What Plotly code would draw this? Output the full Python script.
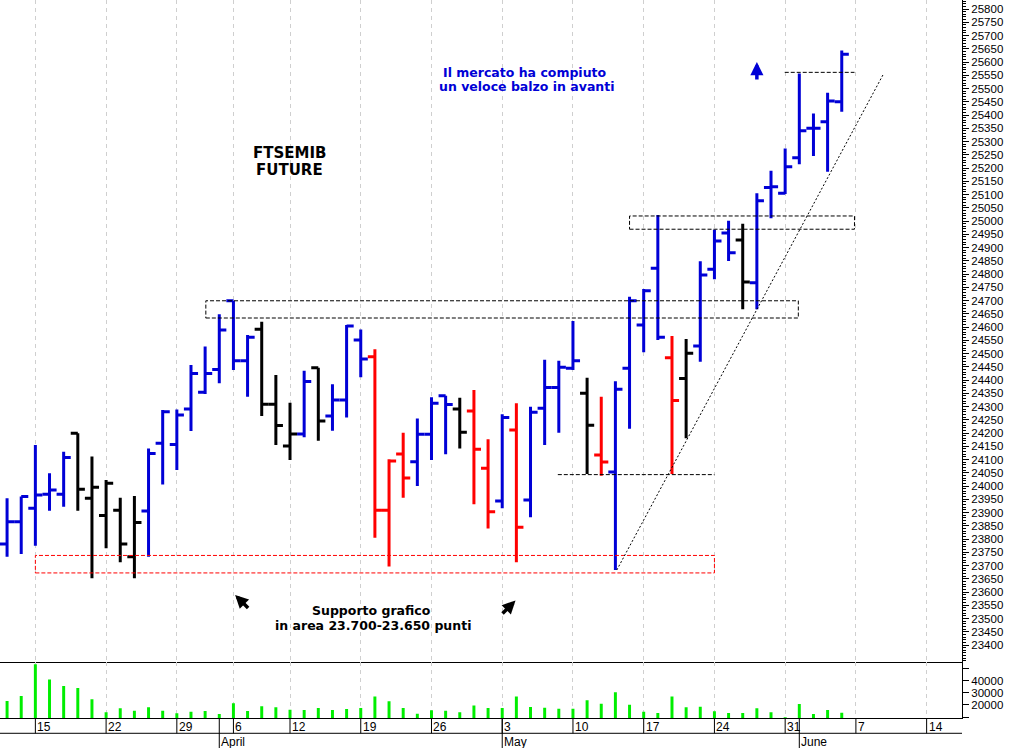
import plotly.graph_objects as go

# ---------------- data ----------------
dates = ["2010-03-11", "2010-03-12", "2010-03-15", "2010-03-16", "2010-03-17", "2010-03-18", "2010-03-19",
         "2010-03-22", "2010-03-23", "2010-03-24", "2010-03-25", "2010-03-26", "2010-03-29", "2010-03-30",
         "2010-03-31", "2010-04-01", "2010-04-06", "2010-04-07", "2010-04-08", "2010-04-09", "2010-04-12",
         "2010-04-13", "2010-04-14", "2010-04-15", "2010-04-16", "2010-04-19", "2010-04-20", "2010-04-21",
         "2010-04-22", "2010-04-23", "2010-04-26", "2010-04-27", "2010-04-28", "2010-04-29", "2010-04-30",
         "2010-05-03", "2010-05-04", "2010-05-05", "2010-05-06", "2010-05-07", "2010-05-10", "2010-05-11",
         "2010-05-12", "2010-05-13", "2010-05-14", "2010-05-17", "2010-05-18", "2010-05-19", "2010-05-20",
         "2010-05-21", "2010-05-24", "2010-05-25", "2010-05-26", "2010-05-27", "2010-05-28", "2010-05-31",
         "2010-06-01", "2010-06-02", "2010-06-03", "2010-06-04"]

opens = [23781, 23865, 23916, 23969, 23969, 24199, 23954, 23889, 23909, 23733,
         23906, 24161, 24157, 24291, 24354, 24440, 24699, 24473, 24592, 24309,
         24151, 24196, 24446, 24264, 24325, 24551, 24488, 23909, 24121, 24092,
         24195, 24341, 24291, 24283, 24067, 23943, 24211, 23947, 24293, 24372,
         24444, 24350, 24117, 24053, 24444, 24608, 24822, 24484, 24406, 24528,
         24818, 24955, 24928, 24767, 25126, 25105, 25239, 25350, 25375, 25450]
highs = [23954, 23960, 24155, 24048, 24129, 24199, 24111, 24023, 23956, 23962,
         24142, 24287, 24289, 24457, 24526, 24648, 24699, 24570, 24620, 24419,
         24314, 24435, 24446, 24384, 24608, 24591, 24516, 24101, 24201, 24255,
         24335, 24341, 24333, 24362, 24176, 24271, 24312, 24299, 24476, 24473,
         24623, 24409, 24337, 24395, 24714, 24743, 25023, 24566, 24555, 24848,
         24967, 25001, 24990, 25105, 25190, 25274, 25557, 25406, 25484, 25643]
lows = [23733, 23743, 23775, 23907, 23922, 23907, 23652, 23765, 23712, 23652,
        23733, 24006, 24060, 24208, 24347, 24388, 24438, 24337, 24264, 24155,
        24098, 24184, 24171, 24209, 24259, 24410, 23805, 23696, 23956, 24000,
        24098, 24120, 24142, 23931, 23840, 23916, 23712, 23882, 24155, 24201,
        24438, 24045, 24039, 23683, 24216, 24505, 24551, 24045, 24180, 24469,
        24780, 24849, 24667, 24667, 25010, 25102, 25214, 25245, 25186, 25412]
closes = [23865, 23960, 23966, 23985, 24108, 23988, 23995, 24010, 23781, 23862,
          24123, 24280, 24268, 24425, 24425, 24589, 24473, 24561, 24309, 24228,
          24196, 24394, 24245, 24325, 24604, 24479, 23909, 24094, 24030, 24195,
          24312, 24308, 24203, 24139, 23903, 24259, 23844, 24278, 24372, 24448,
          24473, 24229, 24091, 24365, 24699, 24737, 24561, 24323, 24501, 24796,
          24925, 24880, 24770, 25076, 25129, 25205, 25341, 25350, 25453, 25629]
bar_colors = ["b", "b", "b", "b", "b", "k", "k", "k", "k", "k",
              "b", "b", "b", "b", "b", "b", "b", "b", "k", "k",
              "k", "b", "k", "b", "b", "b", "r", "r", "r", "b",
              "b", "b", "k", "r", "r", "b", "r", "b", "b", "b",
              "b", "k", "r", "b", "b", "b", "b", "r", "k", "b",
              "b", "b", "k", "b", "b", "b", "b", "b", "b", "b"]
volumes = [23300, 27400, 53600, 41000, 35600, 33900, 24700, 14000, 17300, 15300,
           18100, 15300, 13200, 14500, 15100, 12600, 21400, 15100, 18900, 18100,
           16100, 15900, 17500, 15900, 16700, 17500, 27100, 23000, 17500, 12900,
           15600, 15300, 14000, 19500, 17500, 17500, 27100, 18400, 17800, 17000,
           17000, 23900, 21100, 30400, 20300, 14500, 13400, 27100, 18100, 18600,
           14800, 13400, 13400, 17300, 14000, 9900, 20800, 12600, 15900, 13700]

week_tick_idx = [2, 7, 12, 16, 20, 25, 30, 35, 40, 45, 50, 55, 60, 65]
week_tick_text = ["15", "22", "29", "6", "12", "19", "26", "3", "10", "17", "24", "31", "7", "14"]
month_tick_idx = [15, 35, 56]
month_tick_text = ["April", "May", "June"]

price_tick_vals = list(range(23400, 25801, 50))
price_tick_text = [str(v) for v in price_tick_vals]
vol_tick_vals = [10000, 20000, 30000, 40000, 50000]
vol_tick_text = ["", "20000", "30000", "40000", ""]

# ---------------- styles / positions ----------------
BLUE = "#0000d6"
RED = "#ff0000"
BLACK = "#000000"
GREEN = "#00ee00"
COLOR_MAP = {"b": BLUE, "r": RED, "k": BLACK}

X_RANGE = [-0.5, 67.5]
PRICE_RANGE = [23337, 25834]
VOL_RANGE = [9300, 55640]
MAIN_DOMAIN = [0.0784, 1.0]
VOL_DOMAIN = [0.0, 0.0784]
ROW1_Y = -0.0213   # line below day labels
ROW2_Y = -0.0418   # bottom of month row

x_idx = list(range(len(dates)))

fig = go.Figure()

for key in ["b", "k", "r"]:
    sel = [i for i, c in enumerate(bar_colors) if c == key]
    col = COLOR_MAP[key]
    fig.add_trace(go.Ohlc(
        x=[x_idx[i] for i in sel],
        open=[opens[i] for i in sel],
        high=[highs[i] for i in sel],
        low=[lows[i] for i in sel],
        close=[closes[i] for i in sel],
        increasing=dict(line=dict(color=col, width=3)),
        decreasing=dict(line=dict(color=col, width=3)),
        tickwidth=0.5,
        xaxis="x", yaxis="y",
        hoverinfo="skip", showlegend=False,
    ))

fig.add_trace(go.Bar(
    x=x_idx, y=volumes, marker=dict(color=GREEN, line=dict(width=0)),
    width=0.21, xaxis="x2", yaxis="y2", hoverinfo="skip", showlegend=False,
))

grid_common = dict(
    range=X_RANGE, showline=True, linecolor="black", linewidth=1,
    ticks="", showticklabels=False, tickmode="array", tickvals=week_tick_idx,
    showgrid=True, gridcolor="#cfcfcf", griddash="4px,4px", gridwidth=1,
    zeroline=False, fixedrange=True,
)

fig.update_layout(
    width=1010, height=748,
    margin=dict(l=0, r=48, t=0, b=30),
    paper_bgcolor="white", plot_bgcolor="white",
    showlegend=False,
    xaxis=dict(domain=[0, 1], anchor="y", rangeslider=dict(visible=False), **grid_common),
    xaxis2=dict(domain=[0, 1], anchor="y2", matches="x", rangeslider=dict(visible=False), **grid_common),
    yaxis=dict(
        domain=MAIN_DOMAIN, range=PRICE_RANGE, side="right", anchor="x",
        tickmode="array", tickvals=price_tick_vals, ticktext=price_tick_text,
        ticks="outside", ticklen=6, tickcolor="black", tickwidth=1,
        minor=dict(tickmode="linear", tick0=0, dtick=10, ticks="outside", ticklen=3,
                   tickcolor="black", showgrid=False),
        showline=True, linecolor="black", linewidth=1,
        showgrid=False, zeroline=False, fixedrange=True,
        tickfont=dict(family="Liberation Sans", size=11.5, color="black"),
    ),
    yaxis2=dict(
        domain=VOL_DOMAIN, range=VOL_RANGE, side="right", anchor="x2",
        tickmode="array", tickvals=vol_tick_vals, ticktext=vol_tick_text,
        ticks="outside", ticklen=6, tickcolor="black", tickwidth=1,
        showline=True, linecolor="black", linewidth=1,
        showgrid=False, zeroline=False, fixedrange=True,
        tickfont=dict(family="Liberation Sans", size=11.5, color="black"),
    ),
)

shapes = []
DASH_BOX = "4px,2px"
shapes.append(dict(type="rect", xref="x", yref="y", x0=14.05, x1=55.93, y0=24634, y1=24699,
                   line=dict(color="black", width=1, dash=DASH_BOX), fillcolor="rgba(0,0,0,0)"))
shapes.append(dict(type="rect", xref="x", yref="y", x0=44.0, x1=59.9, y0=24969, y1=25019,
                   line=dict(color="black", width=1, dash=DASH_BOX), fillcolor="rgba(0,0,0,0)"))
shapes.append(dict(type="rect", xref="x", yref="y", x0=2.0, x1=50.0, y0=23672, y1=23738,
                   line=dict(color=RED, width=1, dash=DASH_BOX), fillcolor="rgba(0,0,0,0)"))
shapes.append(dict(type="line", xref="x", yref="y", x0=38.93, x1=50.0, y0=24043, y1=24043,
                   line=dict(color="black", width=1, dash=DASH_BOX)))
shapes.append(dict(type="line", xref="x", yref="y", x0=54.97, x1=59.9, y0=25561, y1=25561,
                   line=dict(color="black", width=1, dash=DASH_BOX)))
shapes.append(dict(type="line", xref="x", yref="y", x0=43.1, x1=61.97, y0=23683, y1=25557,
                   line=dict(color="black", width=1, dash="2px,2px")))

shapes.append(dict(type="line", xref="paper", yref="paper", x0=0, x1=1, y0=ROW1_Y, y1=ROW1_Y,
                   line=dict(color="black", width=1)))
for xi in week_tick_idx:
    shapes.append(dict(type="line", xref="x", yref="paper", x0=xi, x1=xi, y0=0, y1=ROW1_Y,
                       line=dict(color="black", width=1)))
for xi in month_tick_idx:
    shapes.append(dict(type="line", xref="x", yref="paper", x0=xi, x1=xi, y0=0, y1=ROW2_Y,
                       line=dict(color="black", width=1)))

fig.update_layout(shapes=shapes)

annotations = []
for xi, t in zip(week_tick_idx, week_tick_text):
    annotations.append(dict(x=xi, y=-0.0122, xref="x", yref="paper", text=t, showarrow=False,
                            xanchor="left", yanchor="middle",
                            font=dict(family="Liberation Sans", size=12, color="black")))
for xi, t in zip(month_tick_idx, month_tick_text):
    annotations.append(dict(x=xi, y=-0.0335, xref="x", yref="paper", text=t, showarrow=False,
                            xanchor="left", yanchor="middle",
                            font=dict(family="Liberation Sans", size=12, color="black")))

TXT_FONT = "DejaVu Sans"
def txt(x, y, s, size, color):
    return dict(x=x, y=y, xref="x", yref="y", text="<b>" + s + "</b>", showarrow=False,
                xanchor="center", yanchor="middle",
                font=dict(family=TXT_FONT, size=size, color=color))

annotations.append(txt(19.93, 25257, "FTSEMIB", 15, "black"))
annotations.append(txt(19.97, 25192, "FUTURE", 15, "black"))
annotations.append(txt(36.62, 25562, "Il mercato ha compiuto", 12.5, BLUE))
annotations.append(txt(36.72, 25506, "un veloce balzo in avanti", 12.5, BLUE))
annotations.append(txt(25.77, 23532, "Supporto grafico", 12.5, "black"))
annotations.append(txt(25.84, 23472, "in area 23.700-23.650 punti", 12.5, "black"))

def arrow(x, y, ax, ay, color):
    return dict(x=x, y=y, xref="x", yref="y", text="", showarrow=True, ax=ax, ay=ay,
                arrowhead=2, arrowsize=0.75, arrowwidth=3.5, arrowcolor=color, standoff=0,
                startstandoff=0, font=dict(size=1))

annotations.append(arrow(16.12, 23589, 14.5, 14.5, "black"))
annotations.append(arrow(35.94, 23568, -14.5, 14.5, "black"))
annotations.append(arrow(53.0, 25600, 0, 19, BLUE))

fig.update_layout(annotations=annotations)

fig.write_html("out.html", config={"displayModeBar": False},
               post_script="document.body.style.margin='0';document.body.style.padding='0';")
